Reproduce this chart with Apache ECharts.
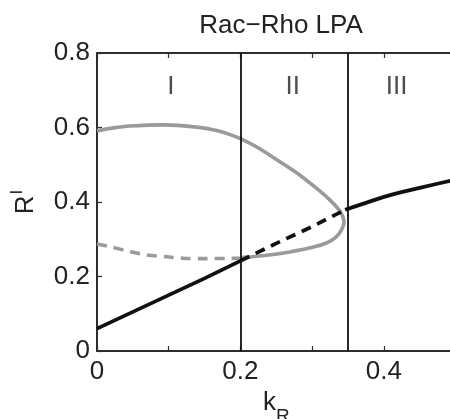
<!DOCTYPE html>
<html>
<head>
<meta charset="utf-8">
<script src="https://cdn.jsdelivr.net/npm/echarts@6/dist/echarts.min.js"></script>
<style>html,body{margin:0;padding:0;background:#fff;}#c{width:450px;height:419px;}</style>
</head>
<body>
<div id="c"></div>
<script>
// ---- data ----
var xTicks = [0, 0.2, 0.4];
var yTicks = [0, 0.2, 0.4, 0.6, 0.8];
var boundaries = [0.2, 0.346];
var regionNames = ['I', 'II', 'III'];
var regionX = [0.103, 0.273, 0.418];
var regionY = [0.71, 0.71, 0.71];

var blackLowK = [0, 0.05, 0.1, 0.15, 0.2];
var blackLowR = [0.06, 0.105, 0.15, 0.195, 0.242];
var blackDashK = [0.2, 0.25, 0.3, 0.346];
var blackDashR = [0.242, 0.289, 0.334, 0.379];
var blackHighK = [0.346, 0.38, 0.41, 0.45, 0.5];
var blackHighR = [0.379, 0.401, 0.419, 0.438, 0.46];

var grayLoopK = [0, 0.023, 0.046, 0.093, 0.139, 0.167, 0.186, 0.2045, 0.227, 0.255, 0.283, 0.306, 0.325, 0.337, 0.3425, 0.3445, 0.341, 0.333, 0.32, 0.302, 0.269, 0.237, 0.209, 0.2];
var grayLoopR = [0.591, 0.599, 0.604, 0.607, 0.601, 0.592, 0.581, 0.566, 0.543, 0.508, 0.472, 0.437, 0.405, 0.38, 0.362, 0.345, 0.325, 0.305, 0.29, 0.279, 0.266, 0.257, 0.252, 0.25];
var grayDashK = [0, 0.018, 0.046, 0.069, 0.097, 0.12, 0.15, 0.2];
var grayDashR = [0.287, 0.28, 0.267, 0.258, 0.253, 0.249, 0.248, 0.249];

function pairs(a, b) { return a.map(function (v, i) { return [v, b[i]]; }); }

var FONT = 'Liberation Sans';
var chart = echarts.init(document.getElementById('c'), null, {renderer: 'canvas'});
var axisLineStyle = {color: '#2e2e2e', width: 2};
var tickStyle = {show: true, inside: true, length: 5, lineStyle: {color: '#2e2e2e', width: 1.2}};

var option = {
  animation: false,
  backgroundColor: '#fff',
  title: {
    text: 'Rac\u2212Rho LPA', left: 276, top: 8, textAlign: 'center',
    textStyle: {fontFamily: FONT, fontSize: 26, fontWeight: 'normal', color: '#222'}
  },
  grid: {left: 97, top: 53, width: 358.5, height: 298, outerBoundsMode: 'none', containLabel: false},
  xAxis: [{
    type: 'value', min: 0, max: 0.5, interval: 0.1, position: 'bottom',
    axisLine: {show: true, onZero: false, lineStyle: axisLineStyle},
    axisTick: tickStyle, splitLine: {show: false},
    axisLabel: {
      fontFamily: FONT, fontSize: 26, color: '#222', margin: 8,
      formatter: function (v) {
        for (var i = 0; i < xTicks.length; i++) if (Math.abs(v - xTicks[i]) < 1e-9) return String(xTicks[i]);
        return '';
      }
    },
    name: '{k|k}{s|R}', nameLocation: 'middle', nameGap: 36,
    nameTextStyle: {
      fontFamily: FONT, color: '#222',
      rich: {
        k: {fontFamily: FONT, fontSize: 26, color: '#222', verticalAlign: 'top', lineHeight: 26},
        s: {fontFamily: FONT, fontSize: 19, color: '#222', verticalAlign: 'top', lineHeight: 19, padding: [17, 0, 0, 0]}
      }
    }
  }, {
    type: 'value', min: 0, max: 0.5, interval: 0.1, position: 'top',
    axisLine: {show: true, onZero: false, lineStyle: axisLineStyle},
    axisTick: tickStyle, splitLine: {show: false}, axisLabel: {show: false}
  }],
  yAxis: [{
    type: 'value', min: 0, max: 0.8, interval: 0.2, position: 'left',
    axisLine: {show: true, onZero: false, lineStyle: axisLineStyle},
    axisTick: tickStyle, splitLine: {show: false},
    axisLabel: {
      fontFamily: FONT, fontSize: 26, color: '#222', margin: 7,
      formatter: function (v) {
        for (var i = 0; i < yTicks.length; i++) if (Math.abs(v - yTicks[i]) < 1e-9) return String(yTicks[i]);
        return '';
      }
    },
    name: '{r|R}{s|I}', nameLocation: 'middle', nameGap: 58, nameRotate: 90,
    nameTextStyle: {
      fontFamily: FONT, color: '#222',
      rich: {
        r: {fontFamily: FONT, fontSize: 26, color: '#222', verticalAlign: 'bottom', lineHeight: 30},
        s: {fontFamily: FONT, fontSize: 17, color: '#222', verticalAlign: 'top', lineHeight: 30, padding: [0, 0, 12, 1]}
      }
    }
  }, {
    type: 'value', min: 0, max: 0.8, interval: 0.2, position: 'right',
    axisLine: {show: true, onZero: false, lineStyle: axisLineStyle},
    axisTick: tickStyle, splitLine: {show: false}, axisLabel: {show: false}
  }],
  series: [
    {
      type: 'line', data: [], xAxisIndex: 0, yAxisIndex: 0, silent: true,
      markLine: {
        silent: true, symbol: ['none', 'none'], label: {show: false},
        lineStyle: {color: '#111', width: 1.8, type: 'solid'},
        data: boundaries.map(function (b) { return {xAxis: b}; })
      }
    },
    {type: 'line', data: pairs(grayDashK, grayDashR), showSymbol: false, smooth: 0.3,
     lineStyle: {color: '#9a9a9a', width: 3.6, type: [10, 7]}, z: 3},
    {type: 'line', data: pairs(grayLoopK, grayLoopR), showSymbol: false, smooth: 0.3,
     lineStyle: {color: '#9a9a9a', width: 3.6}, z: 3},
    {type: 'line', data: pairs(blackLowK, blackLowR), showSymbol: false,
     lineStyle: {color: '#111', width: 3.8}, z: 4},
    {type: 'line', data: pairs(blackDashK, blackDashR), showSymbol: false,
     lineStyle: {color: '#111', width: 3.8, type: [10, 7]}, z: 4},
    {type: 'line', data: pairs(blackHighK, blackHighR), showSymbol: false, smooth: 0.3,
     lineStyle: {color: '#111', width: 3.8}, z: 4},
    {type: 'scatter', symbolSize: 0, silent: true,
     data: regionX.map(function (x, i) { return {value: [x, regionY[i]], name: regionNames[i]}; }),
     label: {show: true, position: 'inside', formatter: '{b}', fontFamily: FONT, fontSize: 26, color: '#222'}}
  ]
};
chart.setOption(option);
</script>
</body>
</html>
